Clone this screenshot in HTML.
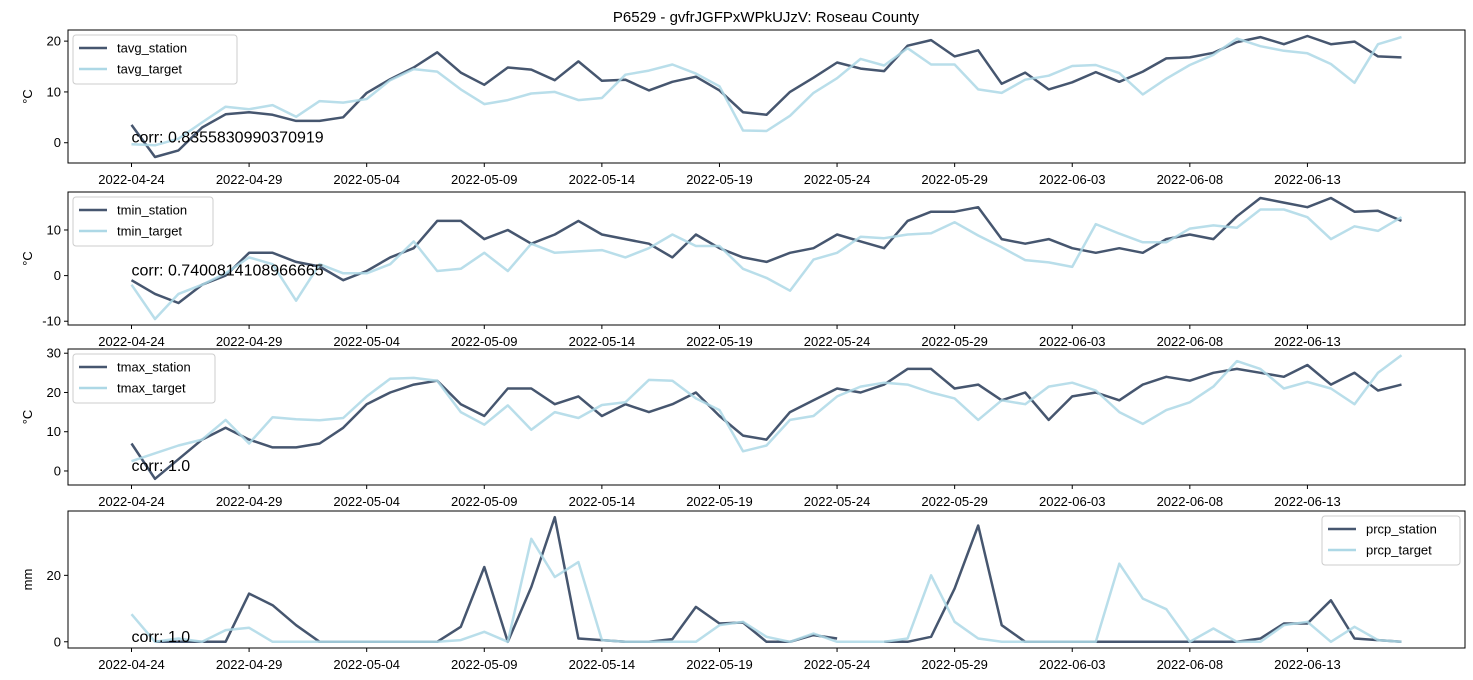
<!DOCTYPE html>
<html><head><meta charset="utf-8"><style>
body{margin:0;background:#fff}
svg{display:block;font-family:"Liberation Sans","DejaVu Sans",sans-serif}
</style></head><body>
<svg id="chart" width="1473" height="680" viewBox="0 0 1473 680" xmlns="http://www.w3.org/2000/svg">
<rect width="1473" height="680" fill="#fff"/>
<text x="766" y="22" font-size="15" text-anchor="middle">P6529 - gvfrJGFPxWPkUJzV: Roseau County</text>
</svg>
<script>
const tickDates = ["2022-04-24","2022-04-29","2022-05-04","2022-05-09","2022-05-14","2022-05-19","2022-05-24","2022-05-29","2022-06-03","2022-06-08","2022-06-13"];
const tavgStation = [3.5,-2.8,-1.5,3,5.6,6,5.5,4.3,4.3,5,9.8,12.5,14.8,17.8,13.8,11.4,14.8,14.4,12.3,16,12.2,12.4,10.3,12,13,10.3,6,5.5,10,12.8,15.8,14.6,14.1,19.1,20.2,17,18.2,11.6,13.8,10.5,11.9,13.9,12,14,16.6,16.8,17.7,19.8,20.8,19.4,21,19.4,19.9,17,16.8];
const tavgTarget = [-0.3,-0.5,0.8,4,7.1,6.6,7.4,5.1,8.2,7.9,8.6,12.3,14.5,14,10.5,7.6,8.4,9.7,10,8.4,8.8,13.4,14.2,15.4,13.6,11.1,2.4,2.3,5.3,9.8,12.7,16.5,15.2,18.6,15.4,15.4,10.5,9.8,12.4,13.2,15.1,15.3,13.7,9.5,12.6,15.3,17.3,20.5,19,18.1,17.6,15.5,11.8,19.4,20.8];
const tminStation = [-1,-4,-6,-2,0,5,5,3,2,-1,1,4,6,12,12,8,10,7,9,12,9,8,7,4,9,6,4,3,5,6,9,7.5,6,12,14,14,15,8,7,8,6,5,6,5,8,9,8,13,17,16,15,17,14,14.2,12];
const tminTarget = [-2,-9.5,-4,-2,0.5,4,2.5,-5.5,2.5,0.5,0.5,2.5,7.5,1,1.5,5,1,7,5,5.3,5.6,4,6,9,6.5,6.5,1.5,-0.5,-3.3,3.5,5,8.5,8.2,9,9.3,11.7,8.8,6.2,3.4,2.9,1.9,11.3,9.2,7.3,7.3,10.3,11,10.5,14.5,14.5,12.8,8,10.8,9.8,12.8];
const tmaxStation = [7,-2,3,8,11,8,6,6,7,11,17,20,22,23,17,14,21,21,17,19,14,17,15,17,20,14,9,8,15,18,21,20,22,26,26,21,22,18,20,13,19,20,18,22,24,23,25,26,25,24,27,22,25,20.5,22];
const tmaxTarget = [2.5,4.5,6.5,8,13,7,13.7,13.2,12.9,13.5,19,23.5,23.7,23,15,11.8,16.7,10.5,15,13.5,16.8,17.5,23.2,23,18.5,15.5,5,6.5,13,14,19,21.5,22.5,22,20,18.5,13,18,17,21.5,22.5,20.5,15,12,15.5,17.5,21.5,28,26,21,22.7,21,17,25,29.5];
const prcpStation = [null,0,0,0,0,14.5,11,5,0,0,0,0,0,0,4.5,22.5,0,16.5,37.5,1,0.5,0,0,0.8,10.5,5.5,5.8,0,0,2,1,null,0,0,1.5,16,35,5,0,0,0,0,0,0,0,0,0,0,1,5.5,5.5,12.5,1,0.5,0];
const prcpTarget = [8.3,0,1,0,3.5,4.2,0,0,0,0,0,0,0,0,0.5,3,0,31,19.5,24,0.5,0,0,0,0,5,6,1.5,0,2.5,0,0,0,1,20,6,1,0,0,0,0,0,23.5,13,9.8,0,4,0,0,5,6,0,4.5,0.5,0];
const corrLabels = ["corr: 0.8355830990370919","corr: 0.7400814108966665","corr: 1.0","corr: 1.0"];
const yTicks1 = [0,10,20], yTicks2 = [-10,0,10], yTicks3 = [0,10,20,30], yTicks4 = [0,20];

const NS="http://www.w3.org/2000/svg";
const svg=document.getElementById('chart');
const X0=68, X1=1465, nDays=tavgStation.length;
const dMin=-(nDays-1)*0.05, dMax=(nDays-1)*1.05;
const xS=d=>X0+(d-dMin)/(dMax-dMin)*(X1-X0);
function mk(tag,attrs,parent){const e=document.createElementNS(NS,tag);for(const k in attrs)e.setAttribute(k,attrs[k]);(parent||svg).appendChild(e);return e;}
const STC="#46566f", TGC="#add8e6";
const panels=[
 {top:30,bot:163,s:tavgStation,t:tavgTarget,names:["tavg_station","tavg_target"],unit:"°C",ticks:yTicks1,corr:corrLabels[0],legRight:false,key:"tavg"},
 {top:192,bot:325,s:tminStation,t:tminTarget,names:["tmin_station","tmin_target"],unit:"°C",ticks:yTicks2,corr:corrLabels[1],legRight:false,key:"tmin"},
 {top:349,bot:485,s:tmaxStation,t:tmaxTarget,names:["tmax_station","tmax_target"],unit:"°C",ticks:yTicks3,corr:corrLabels[2],legRight:false,key:"tmax"},
 {top:511,bot:648,s:prcpStation,t:prcpTarget,names:["prcp_station","prcp_target"],unit:"mm",ticks:yTicks4,corr:corrLabels[3],legRight:true,key:"prcp"}
];
panels.forEach(p=>{
 const g=mk('g',{});
 
 
 const vals=p.s.concat(p.t).filter(v=>v!==null);
 const mn=Math.min(...vals), mx=Math.max(...vals), sp=mx-mn;
 const lo=mn-sp*0.05, hi=mx+sp*0.05;
 const yS=v=>p.bot-(v-lo)/(hi-lo)*(p.bot-p.top);
 [[p.s,STC,p.names[0],1],[p.t,TGC,p.names[1],0.85]].forEach(([arr,col,nm,op])=>{
  let d="",pen=false;
  arr.forEach((v,i)=>{ if(v===null){pen=false;return;} d+=(pen?"L":"M")+xS(i).toFixed(1)+","+yS(v).toFixed(1); pen=true;});
  const path=mk('path',{d:d,fill:"none",stroke:col,"stroke-width":2.5,"stroke-linejoin":"round","stroke-opacity":op},g);
  
  
 });
 const fr=mk('rect',{x:X0,y:p.top,width:X1-X0,height:p.bot-p.top,fill:"none",stroke:"#000","stroke-width":1},g);
 
 
 p.ticks.forEach(v=>{
  const y=yS(v);
  mk('line',{x1:X0-4,x2:X0,y1:y,y2:y,stroke:"#000"},g);
  const t=mk('text',{x:X0-7,y:y+4.5,"font-size":13,"text-anchor":"end"},g);
  t.textContent=v;
  
  
 });
 tickDates.forEach((lab,i)=>{
  const x=xS(i*5);
  mk('line',{x1:x,x2:x,y1:p.bot,y2:p.bot+4,stroke:"#000"},g);
  const t=mk('text',{x:x,y:p.bot+21,"font-size":13,"text-anchor":"middle"},g);
  t.textContent=lab;
  
  
 });
 const yl=mk('text',{x:0,y:0,"font-size":13,"text-anchor":"middle",transform:`translate(32,${(p.top+p.bot)/2}) rotate(-90)`},g);
 yl.textContent=p.unit;
 
 
 const ct=mk('text',{x:xS(0),y:yS(0),"font-size":16},g);
 ct.textContent=p.corr;
 
 
 const lx=p.legRight?1322:73, ly=p.top+5, lw=p.legRight?138:p.key==="tavg"?164:p.key==="tmin"?140:142;
 const lg=mk('g',{},g);
 
 
 mk('rect',{x:lx,y:ly,width:lw,height:49,rx:3,fill:"#fff","fill-opacity":0.8,stroke:"#ccc"},lg);
 [[STC,p.names[0]],[TGC,p.names[1]]].forEach(([c,nm],k)=>{
  const yy=ly+13+k*21;
  mk('line',{x1:lx+6,x2:lx+34,y1:yy,y2:yy,stroke:c,"stroke-width":2.5},lg);
  const t=mk('text',{x:lx+44,y:yy+4.5,"font-size":13},lg);
  t.textContent=nm;
  
  
 });
});
</script>
</body></html>
